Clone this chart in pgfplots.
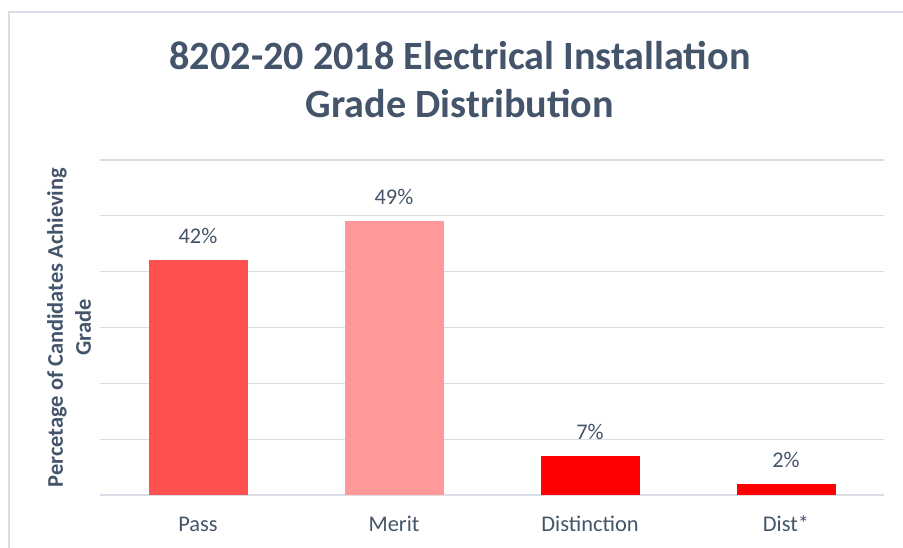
\documentclass[border=0pt]{standalone}
\usepackage{fontspec}
\setmainfont{Carlito}
\usepackage{pgfplots}
\pgfplotsset{compat=1.18}
\definecolor{txt}{HTML}{44546A}
\definecolor{gridc}{HTML}{D9DDE5}
\definecolor{cpass}{HTML}{FF5050}
\definecolor{cmerit}{HTML}{FF9999}
\definecolor{cdist}{HTML}{FF0000}
\begin{document}
\begin{tikzpicture}[x=1bp,y=1bp]
\useasboundingbox (0,0) rectangle (903,548);
\draw[color=gridc, line width=1.2bp] (9,0) -- (9,536) -- (903,536);
\node[anchor=base, font=\bfseries\fontsize{40.3}{48}\selectfont, text=txt] at (460,478) {8202-20 2018 Electrical Installation};
\node[anchor=base, font=\bfseries\fontsize{40.3}{48}\selectfont, text=txt] at (460,430) {Grade Distribution};
\begin{axis}[
  at={(100bp,53bp)}, anchor=south west,
  scale only axis, width=784bp, height=335bp,
  xmin=-0.5, xmax=3.5, ymin=0, ymax=60,
  ytick={0,10,...,60}, yticklabels={},
  ymajorgrids, grid style={color=gridc, line width=1.2bp},
  axis line style={draw=none}, major tick length=0pt,
  xtick={0,1,2,3}, xticklabels={Pass,Merit,Distinction,Dist*},
  xticklabel style={font=\fontsize{22.5}{26}\selectfont, text=txt, anchor=base, yshift=-37bp},
  ylabel={Percetage of Candidates Achieving\\Grade},
  ylabel style={at={(axis description cs:-0.0395,0.5)}, anchor=center, align=center,
    font=\bfseries\fontsize{22.5}{28}\selectfont, text=txt},
  ybar, bar width=99bp,
  clip=false,
  /pgf/number format/assume math mode=true,
  nodes near coords={\pgfmathprintnumber{\pgfplotspointmeta}\%},
  every node near coord/.append style={font=\fontsize{22.5}{26}\selectfont, text=txt, anchor=base, yshift=16.5bp, inner sep=0pt},
]
\addplot[fill=cpass, draw=none, bar shift=0pt] coordinates {(0,42)};
\addplot[fill=cmerit, draw=none, bar shift=0pt] coordinates {(1,49)};
\addplot[fill=cdist, draw=none, bar shift=0pt] coordinates {(2,7)};
\addplot[fill=cdist, draw=none, bar shift=0pt] coordinates {(3,2)};
\end{axis}
\end{tikzpicture}
\end{document}
